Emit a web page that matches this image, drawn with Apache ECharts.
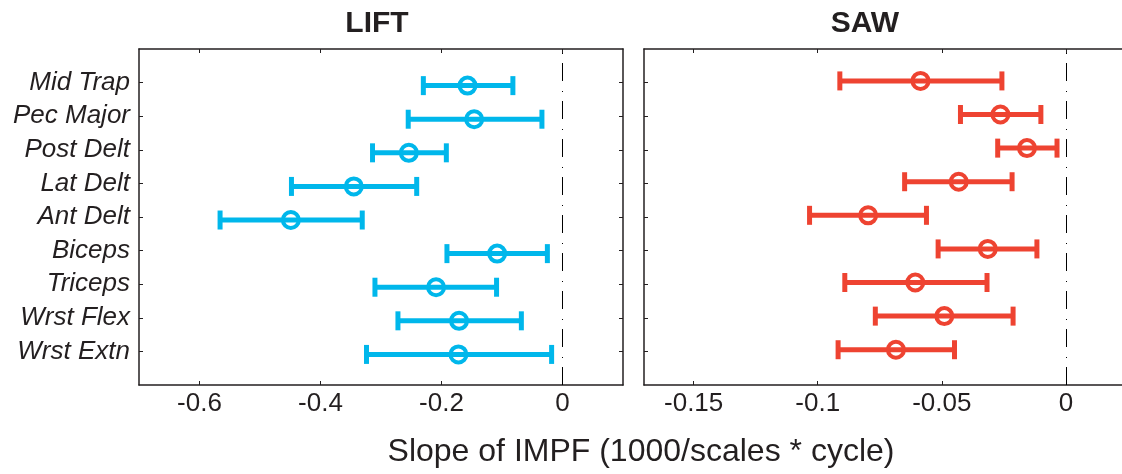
<!DOCTYPE html>
<html>
<head>
<meta charset="utf-8">
<script src="https://cdn.jsdelivr.net/npm/echarts@6/dist/echarts.min.js"></script>
<style>
html,body{margin:0;padding:0;background:#fff;}
#chart{width:1122px;height:474px;}
</style>
</head>
<body>
<div id="chart"></div>
<script>
// Muscles, top to bottom
const muscles = ['Mid Trap','Pec Major','Post Delt','Lat Delt','Ant Delt','Biceps','Triceps','Wrst Flex','Wrst Extn'];

// LIFT: mean slope and error-bar ends
const liftMean = [-0.157, -0.146, -0.254, -0.345, -0.449, -0.108, -0.209, -0.171, -0.172];
const liftLow  = [-0.230, -0.255, -0.314, -0.448, -0.566, -0.191, -0.310, -0.272, -0.324];
const liftHigh = [-0.082, -0.034, -0.192, -0.241, -0.331, -0.025, -0.109, -0.068, -0.018];

// SAW: mean slope and error-bar ends
const sawMean = [-0.0586, -0.0264, -0.0157, -0.0432, -0.0797, -0.0315, -0.0607, -0.0490, -0.0685];
const sawLow  = [-0.0911, -0.0425, -0.0275, -0.0650, -0.1033, -0.0515, -0.0891, -0.0768, -0.0918];
const sawHigh = [-0.0258, -0.0101, -0.0036, -0.0217, -0.0562, -0.0117, -0.0318, -0.0213, -0.0449];

// Tick labels
const liftTicks = [-0.6, -0.4, -0.2, 0];
const sawTicks = [-0.15, -0.1, -0.05, 0];
const rowTicks = [1,2,3,4,5,6,7,8,9];

const panelTitles = ['LIFT', 'SAW'];
const xAxisTitle = 'Slope of IMPF (1000/scales * cycle)';

const LIFT_COLOR = '#00B7EB';
const SAW_COLOR = '#EE4331';
const AXIS_COLOR = '#231f20';
const FONT = '"Liberation Sans", Arial, Helvetica, sans-serif';

const LIFT_SHIFT = -0.09;
const SAW_SHIFT = 0.05;

function rowValue(i) { return muscles.length - i; }

function buildData(mean, low, high, shift) {
  return muscles.map((m, i) => [mean[i], rowValue(i) + shift, low[i], high[i]]);
}

function renderItem(params, api) {
  const y = api.value(1);
  const c = api.coord([api.value(0), y]);
  const lo = api.coord([api.value(2), y]);
  const hi = api.coord([api.value(3), y]);
  const color = api.visual('color');
  const capH = 9.5;
  const lw = 5;
  return {
    type: 'group',
    children: [
      {type:'line', shape:{x1:lo[0], y1:lo[1], x2:hi[0], y2:hi[1]}, style:{stroke:color, lineWidth:lw}},
      {type:'line', shape:{x1:lo[0], y1:lo[1]-capH, x2:lo[0], y2:lo[1]+capH}, style:{stroke:color, lineWidth:lw}},
      {type:'line', shape:{x1:hi[0], y1:hi[1]-capH, x2:hi[0], y2:hi[1]+capH}, style:{stroke:color, lineWidth:lw}},
      {type:'circle', shape:{cx:c[0], cy:c[1], r:8}, style:{fill:'none', stroke:color, lineWidth:4}}
    ]
  };
}

const axisLine = {show:true, onZero:false, lineStyle:{color:AXIS_COLOR, width:1.5}};
const tickStyle = {show:true, inside:true, length:4, lineStyle:{color:AXIS_COLOR, width:1}};

function xAxes(gridIndex, min, max, ticks) {
  return [
    {
      type:'value', gridIndex, min, max, position:'bottom',
      axisLine, splitLine:{show:false},
      axisTick: Object.assign({customValues: ticks}, tickStyle),
      axisLabel:{customValues: ticks, fontSize:26, fontFamily:FONT, color:AXIS_COLOR, margin:6,
        formatter: v => String(v)}
    },
    {
      type:'value', gridIndex, min, max, position:'top',
      axisLine, splitLine:{show:false},
      axisTick: Object.assign({customValues: ticks}, tickStyle),
      axisLabel:{show:false}
    }
  ];
}

function yAxes(gridIndex, showLabels) {
  return [
    {
      type:'value', gridIndex, min:0, max:10, position:'left',
      axisLine, splitLine:{show:false},
      axisTick: Object.assign({customValues: rowTicks}, tickStyle),
      axisLabel:{show:showLabels, customValues: rowTicks, fontSize:26, fontStyle:'italic', fontFamily:FONT,
        color:AXIS_COLOR, margin:9, padding:[4,0,0,0],
        formatter: v => muscles[muscles.length - v] || ''}
    },
    {
      type:'value', gridIndex, min:0, max:10, position:'right',
      axisLine, splitLine:{show:false},
      axisTick: Object.assign({customValues: rowTicks}, tickStyle),
      axisLabel:{show:false}
    }
  ];
}

const zeroLine = {
  silent:true, symbol:'none', label:{show:false},
  lineStyle:{color:'#000', width:1, type:[18,9,1,10]},
  data:[{xAxis:0}]
};

const chart = echarts.init(document.getElementById('chart'), null, {renderer:'canvas'});
chart.setOption({
  animation:false,
  backgroundColor:'#fff',
  grid:[
    {left:139, top:49, width:484, height:336, outerBoundsMode:'none', containLabel:false},
    {left:644, top:49, width:484, height:336, outerBoundsMode:'none', containLabel:false}
  ],
  xAxis:[...xAxes(0, -0.7, 0.1, liftTicks), ...xAxes(1, -0.17, 0.025, sawTicks)],
  yAxis:[...yAxes(0, true), ...yAxes(1, false)],
  graphic:[
    {type:'text', x:377, y:24, style:{text:panelTitles[0], font:'bold 30px ' + FONT, fill:AXIS_COLOR, textAlign:'center', textVerticalAlign:'middle'}},
    {type:'text', x:865, y:24, style:{text:panelTitles[1], font:'bold 30px ' + FONT, fill:AXIS_COLOR, textAlign:'center', textVerticalAlign:'middle'}},
    {type:'text', x:641, y:452, style:{text:xAxisTitle, font:'32px ' + FONT, fill:AXIS_COLOR, textAlign:'center', textVerticalAlign:'middle'}}
  ],
  series:[
    {type:'custom', name:'LIFT', xAxisIndex:0, yAxisIndex:0, itemStyle:{color:LIFT_COLOR},
      renderItem, encode:{x:[0,2,3], y:1}, data: buildData(liftMean, liftLow, liftHigh, LIFT_SHIFT), markLine: zeroLine, clip:false},
    {type:'custom', name:'SAW', xAxisIndex:2, yAxisIndex:2, itemStyle:{color:SAW_COLOR},
      renderItem, encode:{x:[0,2,3], y:1}, data: buildData(sawMean, sawLow, sawHigh, SAW_SHIFT), markLine: zeroLine, clip:false}
  ]
});
</script>
</body>
</html>
